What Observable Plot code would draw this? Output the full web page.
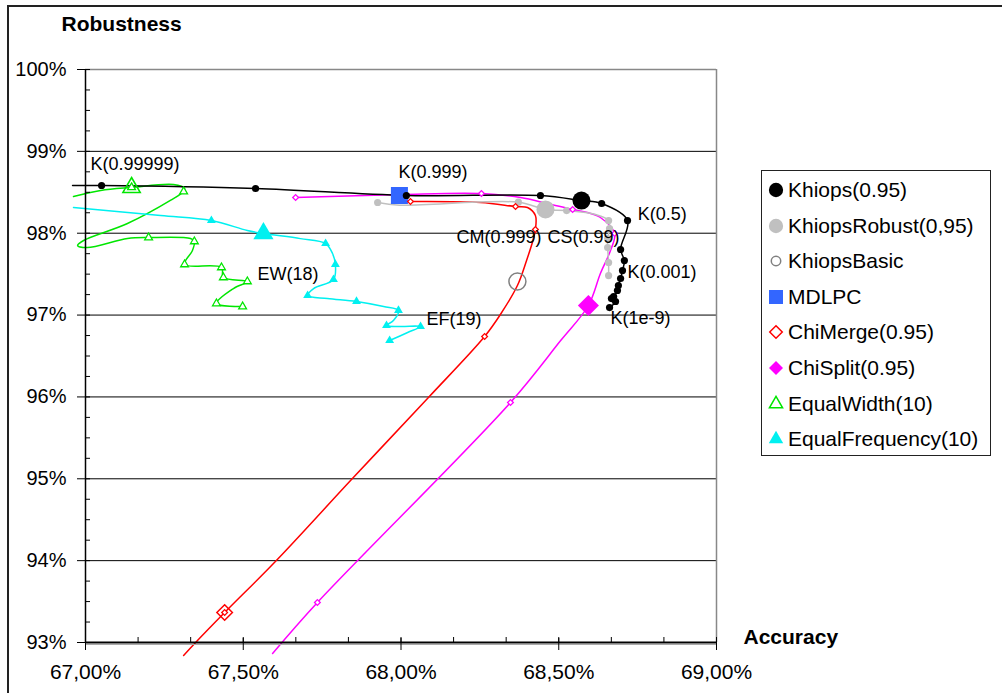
<!DOCTYPE html>
<html><head><meta charset="utf-8">
<script src="https://cdn.jsdelivr.net/npm/d3@7"></script>
<script src="https://cdn.jsdelivr.net/npm/@observablehq/plot@0.6"></script>
<style>
body{margin:0;background:#fff;font-family:"Liberation Sans",Arial,sans-serif;}
#wrap{position:relative;width:1002px;height:693px;overflow:hidden;background:#fff;}
#chart{position:absolute;left:0;top:0;}
#frame{position:absolute;left:7px;top:5px;width:1100px;height:800px;border-left:2px solid #222;border-top:2px solid #222;}
#legend{position:absolute;left:761px;top:170px;width:228px;height:284px;border:1px solid #222;background:#fff;}
.row{position:absolute;left:0;height:30px;display:flex;align-items:center;font-size:21px;color:#000;white-space:nowrap;}
.row svg{margin-left:5px;margin-right:3px;}
</style></head><body>
<div id="wrap"><div id="chart"></div><div id="frame"></div><div id="legend"></div></div>
<script>
// ---- data (Accuracy %, Robustness %) ----
const khiopsLine = [[66.959,98.583],[67.051,98.583],[67.539,98.546],[68.017,98.461],[68.442,98.461],[68.572,98.399],[68.636,98.363],[68.718,98.155],[68.696,97.801],[68.708,97.666],[68.702,97.544],[68.696,97.447],[68.689,97.361],[68.686,97.300],[68.674,97.227],[68.667,97.202],[68.680,97.166],[68.661,97.092]];
const khiopsPts  = [[67.051,98.583],[67.539,98.546],[68.017,98.461],[68.442,98.461],[68.636,98.363],[68.718,98.155],[68.696,97.801],[68.708,97.666],[68.702,97.544],[68.696,97.447],[68.689,97.361],[68.686,97.300],[68.674,97.227],[68.667,97.202],[68.680,97.166],[68.661,97.092]];
const khiopsBest = [[68.572,98.399]];

const robustLine = [[67.926,98.375],[67.995,98.343],[68.372,98.379],[68.458,98.290],[68.525,98.277],[68.617,98.228],[68.658,98.155],[68.661,98.057],[68.655,97.935],[68.655,97.825],[68.658,97.642],[68.658,97.483]];
const robustPts  = [[67.926,98.375],[68.372,98.379],[68.525,98.277],[68.658,98.155],[68.661,98.057],[68.655,97.935],[68.655,97.825],[68.658,97.642],[68.658,97.483]];
const robustBest = [[68.458,98.290]];

const basicPt = [[68.369,97.410]];
const mdlpcPt = [[67.995,98.461]];

const chiMergeLine = [[67.311,92.841],[67.349,93.000],[67.441,93.366],[67.605,94.002],[67.846,95.003],[68.087,95.993],[68.265,96.738],[68.315,97.007],[68.369,97.361],[68.398,97.667],[68.420,97.935],[68.426,98.045],[68.426,98.216],[68.401,98.314],[68.363,98.326],[68.252,98.375],[68.030,98.387]];
const chiMergePts  = [[67.441,93.366],[68.265,96.738],[68.426,98.045],[68.363,98.326],[68.030,98.387]];
const chiMergeBest = [[67.441,93.366]];

const chiSplitLine = [[67.593,92.866],[67.735,93.489],[68.347,95.932],[68.506,96.689],[68.594,97.117],[68.632,97.508],[68.664,97.789],[68.677,97.996],[68.632,98.192],[68.591,98.253],[68.544,98.290],[68.464,98.363],[68.379,98.436],[68.255,98.485],[67.998,98.473],[67.666,98.436]];
const chiSplitPts  = [[67.735,93.489],[68.347,95.932],[68.677,97.996],[68.544,98.290],[68.255,98.485],[67.666,98.436]];
const chiSplitBest = [[68.594,97.117]];

const ewLine = [[66.962,98.448],[67.048,98.522],[67.146,98.559],[67.279,98.595],[67.314,98.546],[67.311,98.509],[67.269,98.400],[67.133,98.118],[66.994,97.911],[66.975,97.850],[67.006,97.825],[67.133,97.935],[67.200,97.947],[67.333,97.935],[67.345,97.899],[67.339,97.789],[67.314,97.618],[67.431,97.581],[67.437,97.459],[67.513,97.410],[67.469,97.324],[67.415,97.141],[67.498,97.104]];
const ewPts  = [[67.146,98.559],[67.311,98.509],[67.200,97.947],[67.345,97.899],[67.314,97.618],[67.431,97.581],[67.437,97.459],[67.513,97.410],[67.415,97.141],[67.498,97.104]];
const ewBest = [[67.146,98.559]];

const efLine = [[66.962,98.314],[67.238,98.216],[67.399,98.155],[67.513,98.033],[67.564,97.996],[67.681,97.934],[67.761,97.874],[67.783,97.752],[67.792,97.618],[67.786,97.434],[67.723,97.324],[67.704,97.239],[67.767,97.202],[67.859,97.166],[67.945,97.104],[67.992,97.056],[67.976,96.933],[67.954,96.872],[67.998,96.860],[68.062,96.860],[68.021,96.787],[67.964,96.689]];
const efPts  = [[67.399,98.155],[67.761,97.874],[67.792,97.618],[67.786,97.434],[67.704,97.239],[67.859,97.166],[67.992,97.056],[67.954,96.872],[68.062,96.860],[67.964,96.689]];
const efBest = [[67.564,97.996]];

const labelText = ["K(0.99999)","K(0.999)","K(0.5)","CM(0.999)","CS(0.99)","K(0.001)","K(1e-9)","EW(18)","EF(19)"];
const labelX    = [67.016,67.992,68.750,68.176,68.464,68.718,68.664,67.545,68.081];
const labelY    = [98.839,98.742,98.228,97.947,97.947,97.520,96.958,97.495,96.946];

const yTicks = [93,94,95,96,97,98,99,100];
const yGrid = [94,95,96,97,98,99];
const xTicks = [67,67.5,68,68.5,69];
const xMinor = d3.range(0,13).map(i => 67 + i/6);
const yMinor = d3.range(0,29).map(i => 93 + i/4);

const legendNames = ["Khiops(0.95)","KhiopsRobust(0,95)","KhiopsBasic","MDLPC","ChiMerge(0.95)","ChiSplit(0.95)","EqualWidth(10)","EqualFrequency(10)"];

// ---- chart ----
const X = d => d[0], Y = d => d[1];
const ln = (data, stroke) => Plot.line(data, {x: X, y: Y, stroke, strokeWidth: 1.5, curve: "catmull-rom"});
const fmtX = d => d.toFixed(2).replace(".", ",") + "%";
const labels = labelText.map((t, i) => ({t, x: labelX[i], y: labelY[i]}));

const chart = Plot.plot({
  width: 1002, height: 693,
  marginLeft: 85, marginRight: 286, marginTop: 69, marginBottom: 51,
  x: {domain: [67, 69], axis: null},
  y: {domain: [93, 100], axis: null},
  style: {fontFamily: '"Liberation Sans", Arial, sans-serif', background: "transparent", overflow: "visible", color: "#000"},
  marks: [
    Plot.ruleY(yGrid, {stroke: "#000", strokeWidth: 1}),
    Plot.ruleY([100], {stroke: "#888", strokeWidth: 1.5}),
    Plot.ruleX([69], {stroke: "#888", strokeWidth: 1.5}),
    ln(chiMergeLine, "#ff0000"),
    ln(chiSplitLine, "#ff00ff"),
    ln(robustLine, "#c0c0c0"),
    ln(ewLine, "#00e600"),
    ln(efLine, "#00f0f0"),
    ln(khiopsLine, "#000"),
    Plot.dot(mdlpcPt, {x: X, y: Y, symbol: "square", r: 9.6, fill: "#3366ff"}),
    Plot.dot(robustPts, {x: X, y: Y, symbol: "circle", r: 3.6, fill: "#c0c0c0"}),
    Plot.dot(robustBest, {x: X, y: Y, symbol: "circle", r: 9, fill: "#c0c0c0"}),
    Plot.dot(khiopsPts, {x: X, y: Y, symbol: "circle", r: 3.6, fill: "#000"}),
    Plot.dot(khiopsBest, {x: X, y: Y, symbol: "circle", r: 9, fill: "#000"}),
    Plot.dot(basicPt, {x: X, y: Y, symbol: "circle", r: 8.5, stroke: "#808080", fill: "none", strokeWidth: 1.5}),
    Plot.dot(chiMergePts, {x: X, y: Y, symbol: "diamond2", r: 2.6, stroke: "#ff0000", fill: "#fff", strokeWidth: 1.3}),
    Plot.dot(chiMergeBest, {x: X, y: Y, symbol: "diamond2", r: 7, stroke: "#ff0000", fill: "none", strokeWidth: 1.5}),
    Plot.dot(chiSplitPts, {x: X, y: Y, symbol: "diamond2", r: 2.6, stroke: "#ff00ff", fill: "#fff", strokeWidth: 1.3}),
    Plot.dot(chiSplitBest, {x: X, y: Y, symbol: "diamond2", r: 9.5, fill: "#ff00ff"}),
    Plot.dot(ewPts, {x: X, y: Y, symbol: "triangle", r: 2.9, stroke: "#00e600", fill: "#fff", strokeWidth: 1.3}),
    Plot.dot(ewBest, {x: X, y: Y, symbol: "triangle", r: 6.4, stroke: "#00e600", fill: "none", strokeWidth: 1.6}),
    Plot.dot(efPts, {x: X, y: Y, symbol: "triangle", r: 3.3, fill: "#00f0f0"}),
    Plot.dot(efBest, {x: X, y: Y, symbol: "triangle", r: 7.5, fill: "#00f0f0"}),
    Plot.text(labels, {x: "x", y: "y", text: "t", textAnchor: "start", fontSize: 18, fill: "#000"}),
    Plot.ruleX([67], {stroke: "#000", strokeWidth: 1.5}),
    Plot.ruleY([93], {stroke: "#aaa", strokeWidth: 1, dy: 2}),
    Plot.ruleY([93], {stroke: "#000", strokeWidth: 2}),
    Plot.axisY(yTicks, {anchor: "left", tickSize: 8, tickPadding: 11, fontSize: 20, tickFormat: d => d + "%", label: null, stroke: "#000"}),
    Plot.axisY(yMinor, {anchor: "left", tickSize: 5, dx: 5, tickFormat: () => "", label: null}),
    Plot.axisX(xMinor, {anchor: "bottom", tickSize: 5, dy: -5, tickFormat: () => "", label: null}),
    Plot.axisX(xTicks, {anchor: "bottom", tickSize: 12, dy: -4, tickFormat: () => "", label: null}),
    Plot.axisX(xTicks, {anchor: "bottom", tickSize: 0, tickPadding: 22, fontSize: 21, tickFormat: fmtX, label: null}),
    Plot.text(["Robustness"], {text: d => d, frameAnchor: "top-left", dx: -24, dy: -45, textAnchor: "start", lineAnchor: "middle", fontWeight: "bold", fontSize: 21}),
    Plot.text(["Accuracy"], {text: d => d, frameAnchor: "bottom-right", dx: 27, dy: -5, textAnchor: "start", lineAnchor: "middle", fontWeight: "bold", fontSize: 21})
  ]
});
document.getElementById("chart").appendChild(chart);

// ---- legend ----
const legendSym = [
  {type: d3.symbolCircle, size: 160, fill: "#000", stroke: "none"},
  {type: d3.symbolCircle, size: 160, fill: "#c0c0c0", stroke: "none"},
  {type: d3.symbolCircle, size: 70, fill: "#fff", stroke: "#808080"},
  {type: d3.symbolSquare, size: 196, fill: "#3366ff", stroke: "none"},
  {type: d3.symbolDiamond2, size: 100, fill: "#fff", stroke: "#ff0000"},
  {type: d3.symbolDiamond2, size: 125, fill: "#ff00ff", stroke: "none"},
  {type: d3.symbolTriangle, size: 75, fill: "#fff", stroke: "#00e600"},
  {type: d3.symbolTriangle, size: 90, fill: "#00f0f0", stroke: "none"}
];
const leg = d3.select("#legend");
legendNames.forEach((name, i) => {
  const row = leg.append("div").attr("class", "row").style("top", (4 + i * 35.6) + "px");
  const s = row.append("svg").attr("width", 18).attr("height", 18);
  s.append("path").attr("transform", "translate(9,9)")
    .attr("d", d3.symbol(legendSym[i].type, legendSym[i].size)())
    .attr("fill", legendSym[i].fill).attr("stroke", legendSym[i].stroke).attr("stroke-width", 1.5);
  row.append("span").text(name);
});
</script>
</body></html>
